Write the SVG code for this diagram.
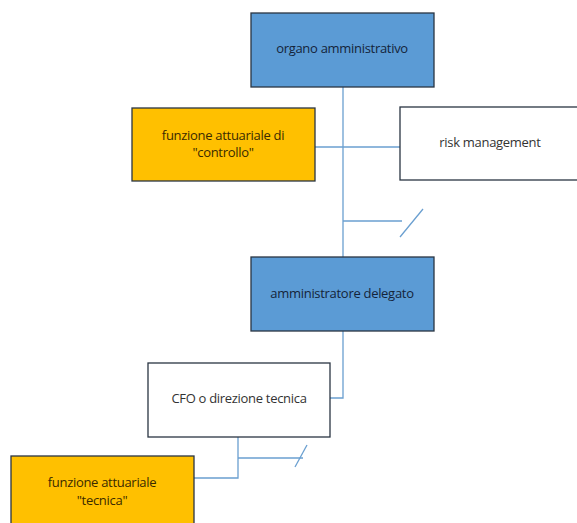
<svg xmlns="http://www.w3.org/2000/svg" width="577" height="523" viewBox="0 0 577 523">
<style>
.box{stroke:#2a3542;stroke-width:1.3}
.blue{fill:#5b9bd5}
.orange{fill:#ffc000}
.white{fill:#ffffff}
.t{font-family:"Open Sans","Liberation Sans",sans-serif;font-size:13px;text-anchor:middle;dominant-baseline:middle;letter-spacing:-0.3px}
.tb{fill:#14243a}
.to{fill:#3a2a00}
.tw{fill:#333333}
.c{fill:none;stroke:#6a9fd0;stroke-width:1.3}
</style>
<rect width="577" height="523" fill="#ffffff"/>
<g id="connectors">
<path class="c" d="M343 87 V257"/>
<path class="c" d="M315 147 H400"/>
<path class="c" d="M343 221 H402"/>
<path class="c" d="M400 237 L423 209"/>
<path class="c" d="M343 331 V398 H330"/>
<path class="c" d="M238 437 V478 H194"/>
<path class="c" d="M238 458 H303"/>
<path class="c" d="M295 467 L307 445"/>
</g>
<g id="organo">
<rect class="box blue" x="251" y="13" width="183" height="74"/>
<text class="t tb" x="342" y="50">organo amministrativo</text>
</g>
<g id="funzione-controllo">
<rect class="box orange" x="132" y="108" width="183" height="73"/>
<text class="t to" x="223" y="137">funzione attuariale di</text>
<text class="t to" x="223" y="154">"controllo"</text>
</g>
<g id="risk">
<rect class="box white" x="400" y="107" width="190" height="73"/>
<text class="t tw" x="490" y="144">risk management</text>
</g>
<g id="ad">
<rect class="box blue" x="251" y="257" width="183" height="74"/>
<text class="t tb" x="342" y="295">amministratore delegato</text>
</g>
<g id="cfo">
<rect class="box white" x="148" y="363" width="182" height="74"/>
<text class="t tw" x="239" y="400">CFO o direzione tecnica</text>
</g>
<g id="funzione-tecnica">
<rect class="box orange" x="11" y="456" width="183" height="80"/>
<text class="t to" x="102" y="484">funzione attuariale</text>
<text class="t to" x="102" y="502">"tecnica"</text>
</g>
</svg>
